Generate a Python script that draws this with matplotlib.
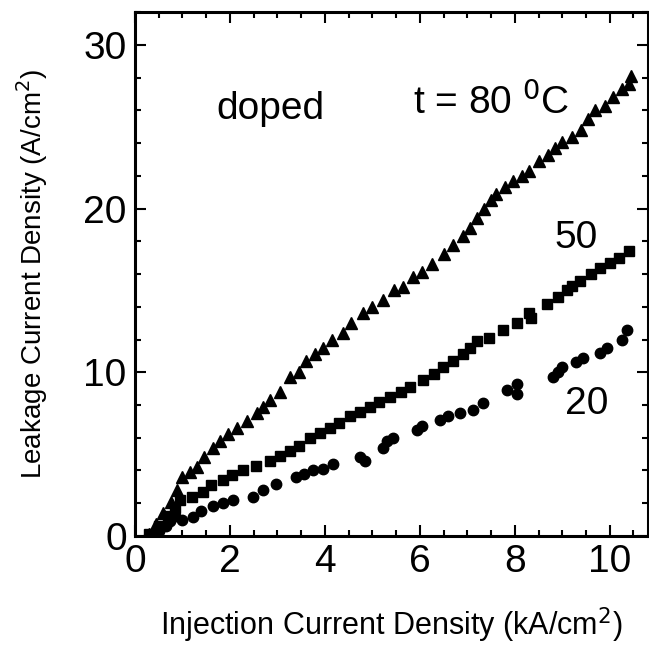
import matplotlib
matplotlib.use("Agg")
import matplotlib.pyplot as plt
from matplotlib.ticker import MultipleLocator

plt.rcParams["font.family"] = ["Liberation Sans", "DejaVu Sans"]

# t = 80 C (triangles)
x80 = [0.3, 0.45, 0.6, 0.75, 0.88, 1.0, 1.15, 1.3, 1.45, 1.64, 1.8, 1.95, 2.15, 2.35,
       2.57, 2.7, 2.84, 3.05, 3.26, 3.45, 3.6, 3.8, 3.96, 4.15, 4.38, 4.55, 4.8, 5.0,
       5.22, 5.45, 5.64, 5.85, 6.05, 6.25, 6.5, 6.7, 6.9, 7.05, 7.2, 7.35, 7.5, 7.6,
       7.8, 7.96, 8.15, 8.3, 8.5, 8.7, 8.85, 9.0, 9.2, 9.4, 9.55, 9.7, 9.9, 10.07,
       10.25, 10.4, 10.45]
y80 = [0.1, 0.7, 1.4, 2.1, 2.8, 3.6, 3.9, 4.2, 4.8, 5.4, 5.8, 6.2, 6.6, 7.0,
       7.5, 7.9, 8.3, 8.8, 9.7, 10.0, 10.7, 11.1, 11.5, 12.0, 12.4, 13.0, 13.6, 14.0,
       14.4, 15.0, 15.2, 15.8, 16.1, 16.6, 17.2, 17.8, 18.3, 18.8, 19.4, 20.0, 20.5, 20.9,
       21.3, 21.7, 22.0, 22.3, 22.9, 23.3, 23.7, 24.1, 24.4, 24.8, 25.5, 26.0, 26.3, 26.8,
       27.3, 27.6, 28.1]

# t = 50 C (squares)
x50 = [0.3, 0.5, 0.7, 0.85, 0.95, 1.2, 1.43, 1.6, 1.85, 2.05, 2.27, 2.55, 2.84, 3.05,
       3.26, 3.45, 3.68, 3.9, 4.1, 4.3, 4.53, 4.75, 4.95, 5.15, 5.37, 5.6, 5.79, 6.06,
       6.3, 6.48, 6.7, 6.9, 7.05, 7.2, 7.45, 7.75, 8.05, 8.3, 8.35, 8.67, 8.9, 9.1,
       9.2, 9.37, 9.6, 9.8, 10.0, 10.2, 10.4]
y50 = [0.1, 0.6, 1.2, 1.7, 2.2, 2.4, 2.7, 3.1, 3.4, 3.7, 4.0, 4.3, 4.6, 4.9,
       5.2, 5.5, 6.0, 6.3, 6.6, 6.9, 7.3, 7.6, 7.9, 8.2, 8.5, 8.8, 9.1, 9.5,
       9.9, 10.3, 10.7, 11.1, 11.5, 11.9, 12.1, 12.6, 13.0, 13.6, 13.3, 14.2, 14.6, 15.0,
       15.3, 15.6, 16.0, 16.4, 16.7, 17.0, 17.4]

# t = 20 C (circles)
x20 = [0.3, 0.5, 0.65, 0.74, 0.85, 1.0, 1.22, 1.4, 1.64, 1.85, 2.06, 2.48, 2.7, 2.98,
       3.4, 3.55, 3.75, 3.95, 4.17, 4.74, 4.85, 5.22, 5.3, 5.43, 5.94, 6.05, 6.42, 6.6,
       6.84, 7.12, 7.33, 7.83, 8.04, 8.04, 8.8, 8.9, 9.0, 9.3, 9.43, 9.8, 9.94, 10.25,
       10.36]
y20 = [0.0, 0.3, 0.6, 0.9, 1.2, 1.0, 1.15, 1.5, 1.8, 2.0, 2.2, 2.4, 2.8, 3.2,
       3.6, 3.8, 4.0, 4.1, 4.4, 4.8, 4.6, 5.4, 5.8, 6.0, 6.5, 6.7, 7.1, 7.3,
       7.5, 7.7, 8.1, 8.9, 8.7, 9.3, 9.7, 10.0, 10.3, 10.6, 10.9, 11.2, 11.5, 12.0,
       12.6]

fig = plt.figure(figsize=(6.49, 6.48), dpi=100)
ax = fig.add_axes([0.208, 0.173, 0.79, 0.808])

ax.plot(x80, y80, linestyle="none", marker="^", color="black", markersize=8.5)
ax.plot(x50, y50, linestyle="none", marker="s", color="black", markersize=6.5)
ax.plot(x20, y20, linestyle="none", marker="o", color="black", markersize=7.5)

ax.set_xlim(0, 10.8)
ax.set_ylim(0, 32)
ax.xaxis.set_major_locator(MultipleLocator(2))
ax.xaxis.set_minor_locator(MultipleLocator(0.5))
ax.yaxis.set_major_locator(MultipleLocator(10))
ax.yaxis.set_minor_locator(MultipleLocator(2))
ax.tick_params(which="both", direction="in", top=True, right=True, width=1.5)
ax.tick_params(which="major", length=8, labelsize=28, pad=6)
ax.tick_params(which="minor", length=4)
for side in ax.spines.values():
    side.set_linewidth(2.2)

ax.set_xlabel("Injection Current Density (kA/cm$^2$)", fontsize=22, labelpad=18)
ax.set_ylabel("Leakage Current Density (A/cm$^2$)", fontsize=20, labelpad=24)

ax.text(2.85, 25.5, "doped", fontsize=28, ha="center", va="baseline")
ax.text(5.85, 25.8, "t = 80 $^0$C", fontsize=28, ha="left", va="baseline")
ax.text(9.3, 18.2, "50", fontsize=28, ha="center", va="center")
ax.text(9.52, 8.05, "20", fontsize=28, ha="center", va="center")

fig.savefig("out.png", dpi=100)
